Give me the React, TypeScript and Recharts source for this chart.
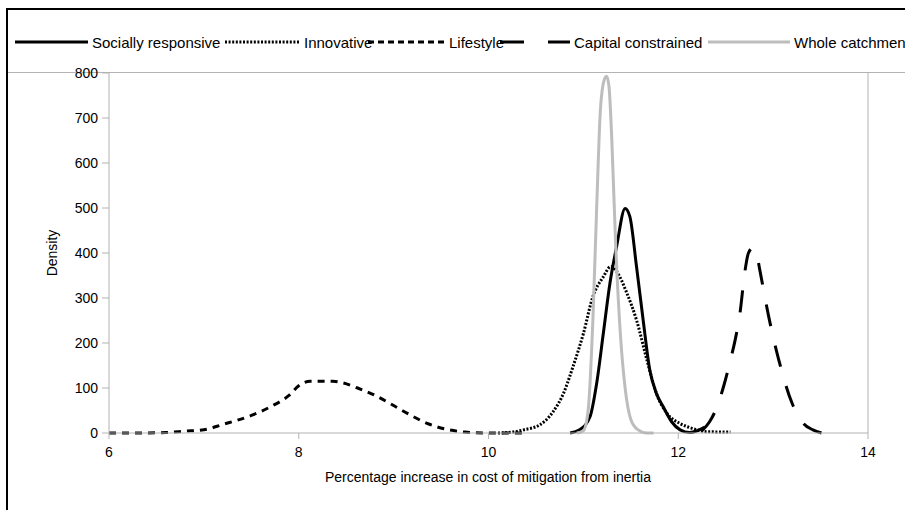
import { Label, Line, LineChart, ReferenceLine, XAxis, YAxis } from "recharts";

const FONT = "'Liberation Sans', Arial, sans-serif";
const AXIS_GREY = "#b3b3b3";

const xTicks = [6, 8, 10, 12, 14];
const yTicks = [0, 100, 200, 300, 400, 500, 600, 700, 800];

// density curves
const socialX = [10.86, 10.96, 11.07, 11.14, 11.21, 11.28, 11.35, 11.44, 11.49, 11.56, 11.63, 11.7, 11.77, 11.84, 11.93, 12.02, 12.12, 12.2, 12.28];
const socialY = [0, 7, 36, 110, 221, 333, 414, 499, 481, 370, 251, 140, 88, 59, 25, 7, 1, 5, 13];

const innovX = [10.1, 10.25, 10.37, 10.54, 10.68, 10.79, 10.89, 11.0, 11.1, 11.21, 11.29, 11.35, 11.46, 11.56, 11.67, 11.77, 11.88, 12.02, 12.15, 12.3, 12.55];
const innovY = [0, 2, 7, 18, 47, 88, 147, 221, 303, 347, 370, 359, 310, 251, 162, 88, 44, 21, 10, 3, 2];

const lifeX = [6.0, 6.3, 6.6, 6.8, 7.0, 7.2, 7.5, 7.7, 7.9, 8.0, 8.12, 8.36, 8.47, 8.62, 8.8, 9.0, 9.15, 9.37, 9.56, 9.75, 9.97, 10.15, 10.38];
const lifeY = [0, 0, 1, 4, 7, 19, 39, 58, 84, 105, 115, 115, 111, 100, 84, 61, 43, 20, 8, 2, 0, 0, 0];

const capX = [12.25, 12.33, 12.41, 12.48, 12.55, 12.6, 12.65, 12.7, 12.74, 12.79, 12.83, 12.86, 12.95, 13.06, 13.2, 13.32, 13.42, 13.51];
const capY = [5, 25, 59, 105, 162, 207, 265, 355, 400, 412, 395, 362, 262, 162, 66, 21, 7, 0];

const wholeX = [10.93, 11.0, 11.05, 11.1, 11.14, 11.18, 11.22, 11.245, 11.27, 11.3, 11.34, 11.39, 11.44, 11.5, 11.57, 11.67, 11.74];
const wholeY = [0, 5, 50, 250, 500, 720, 785, 793, 770, 650, 420, 220, 100, 30, 8, 0, 0];

const toPoints = (xs: number[], ys: number[]) => xs.map((x, i) => ({ x, y: ys[i] }));

type Series = {
  name: string;
  data: { x: number; y: number }[];
  stroke: string;
  width: number;
  dash?: string;
  legendDash?: string;
};

const series: Series[] = [
  { name: "Socially responsive", data: toPoints(socialX, socialY), stroke: "#000", width: 3 },
  { name: "Innovative", data: toPoints(innovX, innovY), stroke: "#000", width: 3, dash: "2 1.6", legendDash: "2 1.6" },
  { name: "Lifestyle", data: toPoints(lifeX, lifeY), stroke: "#000", width: 3, dash: "7 6", legendDash: "6 4" },
  { name: "Capital constrained", data: toPoints(capX, capY), stroke: "#000", width: 3, dash: "22 20", legendDash: "24 24" },
  { name: "Whole catchment", data: toPoints(wholeX, wholeY), stroke: "#bdbdbd", width: 3 },
];

// legend layout: where each sample starts and how long it is
const legendLeft = [15, 225, 368, 500, 708];
const legendSample = [73, 75, 77, 70, 82];

function ChartLegend() {
  return (
    <>
      {series.map((s, i) => (
        <div
          key={s.name}
          style={{
            position: "absolute",
            left: legendLeft[i],
            top: 33,
            height: 18,
            display: "flex",
            alignItems: "center",
            whiteSpace: "nowrap",
            fontSize: 15,
            fontFamily: FONT,
            color: "#000",
          }}
        >
          <svg width={legendSample[i]} height={10} style={{ display: "block" }}>
            <line
              x1={0}
              y1={5}
              x2={legendSample[i]}
              y2={5}
              stroke={s.stroke}
              strokeWidth={s.width}
              strokeDasharray={s.legendDash}
            />
          </svg>
          <span style={{ marginLeft: 4 }}>{s.name}</span>
        </div>
      ))}
    </>
  );
}

export default function App() {
  return (
    <div
      style={{
        position: "absolute",
        left: 0,
        top: 0,
        width: 905,
        height: 510,
        overflow: "hidden",
        background: "#fff",
        fontFamily: FONT,
      }}
    >
      <div
        style={{
          position: "absolute",
          left: 6,
          top: 8,
          width: 960,
          height: 560,
          border: "2px solid #000",
          boxSizing: "border-box",
        }}
      />
      <div
        style={{
          position: "absolute",
          left: 8,
          top: 72,
          width: 910,
          height: 0,
          borderTop: `1px solid ${AXIS_GREY}`,
        }}
      />
      <LineChart
        width={905}
        height={510}
        margin={{ top: 73, right: 37, bottom: 0, left: 0 }}
        style={{ position: "absolute", left: 0, top: 0 }}
      >
        <XAxis
          type="number"
          dataKey="x"
          domain={[6, 14]}
          ticks={xTicks}
          allowDataOverflow
          height={77}
          tickSize={6}
          tickMargin={8}
          stroke={AXIS_GREY}
          tick={{ fill: "#000", fontSize: 14, fontFamily: FONT }}
        >
          <Label
            content={() => (
              <text x={488} y={482} textAnchor="middle" fontSize={14} fontFamily={FONT} fill="#000">
                Percentage increase in cost of mitigation from inertia
              </text>
            )}
          />
        </XAxis>
        <YAxis
          type="number"
          domain={[0, 800]}
          ticks={yTicks}
          width={109}
          tickSize={7}
          tickMargin={4}
          stroke={AXIS_GREY}
          tick={{ fill: "#000", fontSize: 14, fontFamily: FONT }}
        >
          <Label
            content={() => (
              <text
                x={52}
                y={253}
                transform="rotate(-90 52 253)"
                textAnchor="middle"
                dominantBaseline="central"
                fontSize={14}
                fontFamily={FONT}
                fill="#000"
              >
                Density
              </text>
            )}
          />
        </YAxis>
        <ReferenceLine x={14} stroke={AXIS_GREY} strokeWidth={1} ifOverflow="visible" />
        {series.map((s) => (
          <Line
            key={s.name}
            data={s.data}
            dataKey="y"
            name={s.name}
            type="monotone"
            stroke={s.stroke}
            strokeWidth={s.width}
            strokeDasharray={s.dash}
            dot={false}
            activeDot={false}
            isAnimationActive={false}
          />
        ))}
      </LineChart>
      <ChartLegend />
    </div>
  );
}
